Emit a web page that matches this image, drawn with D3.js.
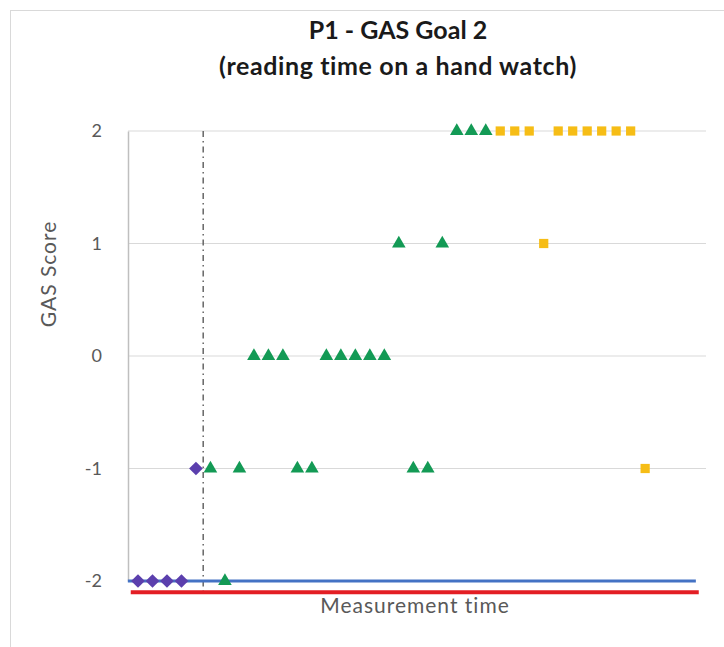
<!DOCTYPE html>
<html>
<head>
<meta charset="utf-8">
<script src="https://cdn.jsdelivr.net/npm/d3@7"></script>
<style>
  body { margin: 0; background: #fff; }
  text { font-family: Lato, "Open Sans", sans-serif; }
</style>
</head>
<body>
<div id="chart"></div>
<script>
// measurement index -> GAS score, one array per phase
const baselineIdx = [0, 1, 2, 3, 4];
const baselineVal = [-2, -2, -2, -2, -1];
const interventionIdx = [5, 6, 7, 8, 9, 10, 11, 12, 13, 14, 15, 16, 17, 18, 19, 20, 21, 22, 23, 24];
const interventionVal = [-1, -2, -1, 0, 0, 0, -1, -1, 0, 0, 0, 0, 0, 1, -1, -1, 1, 2, 2, 2];
const followIdx = [25, 26, 27, 28, 29, 30, 31, 32, 33, 34, 35];
const followVal = [2, 2, 2, 1, 2, 2, 2, 2, 2, 2, -1];
const yTicks = [-2, -1, 0, 1, 2];

// reference lines (data units)
const blueLine = [[-0.7, -2], [38.5, -2]];
const redLine = [[-0.5, -2.1], [38.7, -2.1]];
const phaseLine = [[4.5, 2], [4.5, -2.1]];

const W = 724, H = 647;
const svg = d3.select("#chart").append("svg")
  .attr("width", W).attr("height", H);

// chart frame
svg.append("rect")
  .attr("x", 10.5).attr("y", 10.5)
  .attr("width", W + 20).attr("height", H + 20)
  .attr("fill", "none").attr("stroke", "#d9d9d9");

const x = d3.scaleLinear().domain([-0.69, 39.2]).range([128, 706]);
const y = d3.scaleLinear().domain([-2, 2]).range([581, 131]);

// gridlines
svg.append("g")
  .selectAll("line")
  .data(yTicks.filter(d => d > -2))
  .join("line")
    .attr("x1", x.range()[0]).attr("x2", x.range()[1])
    .attr("y1", d => y(d)).attr("y2", d => y(d))
    .attr("stroke", "#d9d9d9").attr("stroke-width", 1.2);

// y axis
const yAxis = svg.append("g")
  .attr("transform", `translate(${x.range()[0]},0)`)
  .call(d3.axisLeft(y).tickValues(yTicks).tickSize(0).tickPadding(26).tickFormat(d => String(d)));
yAxis.select(".domain").attr("stroke", "#bfbfbf").attr("stroke-width", 1.5);
yAxis.selectAll("text").attr("fill", "#595959").style("font-size", "18px")
  .style("font-family", "Lato, sans-serif");

const line = d3.line().x(d => x(d[0])).y(d => y(d[1]));

// phase change line
svg.append("path")
  .attr("d", line(phaseLine))
  .attr("stroke", "#666").attr("stroke-width", 1.5)
  .attr("stroke-dasharray", "6,4,1.5,4").attr("fill", "none");

svg.append("path").attr("d", line(blueLine))
  .attr("stroke", "#4472c4").attr("stroke-width", 3).attr("fill", "none");
svg.append("path").attr("d", line(redLine))
  .attr("stroke", "#e31e24").attr("stroke-width", 4).attr("fill", "none");

function drawSeries(idx, vals, type, size, color) {
  svg.append("g")
    .selectAll("path")
    .data(idx.map((d, i) => [d, vals[i]]))
    .join("path")
      .attr("transform", d => `translate(${x(d[0])},${y(d[1])})`)
      .attr("d", d3.symbol().type(type).size(size))
      .attr("fill", color);
}
drawSeries(baselineIdx, baselineVal, d3.symbolDiamond2, 120, "#5b3fad");
drawSeries(interventionIdx, interventionVal, d3.symbolTriangle, 80, "#139a55");
drawSeries(followIdx, followVal, d3.symbolSquare, 85, "#f6bd16");

// titles
svg.append("text")
  .attr("x", 398).attr("y", 39)
  .attr("text-anchor", "middle")
  .style("font-size", "25px").style("font-weight", "bold").attr("fill", "#1a1a1a")
  .text("P1 - GAS Goal 2");
svg.append("text")
  .attr("x", 398).attr("y", 75)
  .attr("text-anchor", "middle")
  .style("font-size", "25px").style("font-weight", "bold").attr("fill", "#1a1a1a")
  .style("letter-spacing", "0.6px")
  .text("(reading time on a hand watch)");

svg.append("text")
  .attr("transform", "translate(56,274) rotate(-90)")
  .attr("text-anchor", "middle")
  .style("font-size", "21px").style("letter-spacing", "1px").attr("fill", "#595959")
  .text("GAS Score");

svg.append("text")
  .attr("x", 415).attr("y", 613)
  .attr("text-anchor", "middle")
  .style("font-size", "21px").style("letter-spacing", "1px").attr("fill", "#595959")
  .text("Measurement time");
</script>
</body>
</html>
